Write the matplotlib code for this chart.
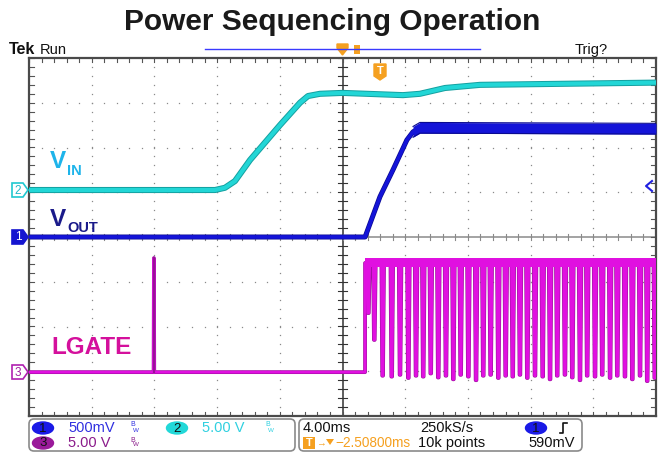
import matplotlib
matplotlib.use("Agg")
import matplotlib.pyplot as plt
from matplotlib.patches import FancyBboxPatch, Polygon, Ellipse
import matplotlib.patheffects as pe
import numpy as np

plt.rcParams['font.family'] = ['Liberation Sans', 'DejaVu Sans']

# ---------------- data (time in ms, amplitude in screen divisions) ----------------
title = "Power Sequencing Operation"
vin_t = [-20, -8.13, -7.5, -6.86, -5.9, -3.99, -2.71, -2.2, -1.44, 0.0, 3.86, 4.94, 6.54, 8.77, 20]
vin_v = [1.05, 1.05, 1.10, 1.25, 1.72, 2.50, 3.00, 3.15, 3.20, 3.22, 3.17, 3.20, 3.33, 3.40, 3.45]

vout_t = [-20, 1.44, 2.39, 3.22, 4.11, 4.50, 4.94, 20]
vout_v = [0.0, 0.0, 0.90, 1.50, 2.17, 2.35, 2.44, 2.42]

lgate_low = -3.02
lgate_high = -0.58
lgate_rise_t = 1.44
spike_t = -12.03
spike_v = -0.47
dip_t = [1.65, 2.03, 2.56, 3.14, 3.67, 4.20, 4.69, 5.15, 5.63, 6.11, 6.60, 7.07, 7.54,
         8.03, 8.52, 8.98, 9.45, 9.94, 10.41, 10.86, 11.32, 11.79, 12.28, 12.77, 13.24,
         13.70, 14.19, 14.66, 15.15, 15.61, 16.11, 16.57, 17.07, 17.53, 18.02, 18.49,
         18.98, 19.44, 19.92]
dip_v = [-1.70, -2.30, -3.10, -3.12, -3.08, -3.15, -3.10, -3.12, -3.05, -3.14, -3.10, -3.18,
         -3.08, -3.12, -3.20, -3.10, -3.08, -3.15, -3.10, -3.12, -3.08, -3.15, -3.10, -3.12,
         -3.18, -3.10, -3.08, -3.14, -3.20, -3.10, -3.12, -3.08, -3.15, -3.10, -3.12, -3.18,
         -3.10, -3.22, -3.15]

ch_labels = ["1", "2", "3"]
ch_scales = ["500mV", "5.00 V", "5.00 V"]
timebase = "4.00ms"
sample_rate = "250kS/s"
trig_delay = "\u22122.50800ms"
record_len = "10k points"
trig_level = "590mV"

# ---------------- figure ----------------
W, H = 660, 454
fig = plt.figure(figsize=(W / 100, H / 100), dpi=100)
fig.patch.set_facecolor("white")

L, R, T, B = 29, 656, 58, 416
ax = fig.add_axes([L / W, 1 - B / H, (R - L) / W, (B - T) / H])
ax.set_xlim(-20, 20)
ax.set_ylim(-4, 4)
ax.set_xticks([]); ax.set_yticks([])
for s in ax.spines.values():
    s.set_color("#4a4a4a"); s.set_linewidth(1.6)

# graticule
gcol = "#8a8a8a"
ydots = np.arange(-4, 4.001, 0.2)
xdots = np.arange(-20, 20.001, 0.8)
for i in range(1, 10):
    if i == 5:
        continue
    xg = -20 + 4 * i
    ax.plot(np.full_like(ydots, xg), ydots, ls="none", marker="s", ms=0.9, mec="none", mfc=gcol, zorder=1)
for j in range(1, 8):
    if j == 4:
        continue
    yg = -4 + j
    ax.plot(xdots, np.full_like(xdots, yg), ls="none", marker="s", ms=0.9, mec="none", mfc=gcol, zorder=1)
ax.axvline(0, color="#333333", lw=1.1, zorder=1)
ax.axhline(0, color="#8a8a8a", lw=1.1, zorder=1)
for yy in ydots:
    ax.plot([-0.3, 0.3], [yy, yy], color="#333333", lw=0.8, zorder=1)
    ax.plot([-20, -19.7], [yy, yy], color="#555555", lw=0.8, zorder=1)
    ax.plot([19.7, 20], [yy, yy], color="#555555", lw=0.8, zorder=1)
for xx in xdots:
    ax.plot([xx, xx], [-0.06, 0.06], color="#8a8a8a", lw=0.8, zorder=1)
    ax.plot([xx, xx], [3.92, 4], color="#555555", lw=0.8, zorder=1)
    ax.plot([xx, xx], [-4, -3.92], color="#555555", lw=0.8, zorder=1)

# VIN (cyan)
ax.plot(vin_t, vin_v, color="#22d6d6", lw=3.0, zorder=3,
        path_effects=[pe.Stroke(linewidth=4.4, foreground="#14a0a0"), pe.Normal()])

# VOUT (blue)
vt = np.array(vout_t, float); vv = np.array(vout_v, float)
ax.plot(vt, vv, color="#1414d8", lw=2.6, zorder=4,
        path_effects=[pe.Stroke(linewidth=3.6, foreground="#0a0a90"), pe.Normal()])
mask = vt >= vout_t[5]
ax.fill_between(vt[mask], vv[mask] - 0.12, vv[mask] + 0.12, color="#1414d8", lw=0, zorder=4)
ax.plot(vt[mask], vv[mask] + 0.12, color="#0a0a90", lw=0.8, zorder=4)
ax.plot(vt[mask], vv[mask] - 0.12, color="#0a0a90", lw=0.8, zorder=4)

# LGATE (magenta)
lx = [-20, spike_t - 0.02, spike_t, spike_t + 0.02, lgate_rise_t, lgate_rise_t]
ly = [lgate_low, lgate_low, spike_v, lgate_low, lgate_low, lgate_high]
for t0, b0 in zip(dip_t, dip_v):
    lx += [t0 - 0.08, t0 - 0.025, t0 + 0.025, t0 + 0.09]
    ly += [lgate_high, b0, b0, lgate_high]
lx += [20]; ly += [lgate_high]
ax.plot(lx, ly, color="#e010e0", lw=1.9, zorder=5,
        path_effects=[pe.Stroke(linewidth=2.7, foreground="#9a109a"), pe.Normal()])
ax.fill_between([lgate_rise_t, 20], lgate_high - 0.1, lgate_high + 0.1, color="#e010e0", lw=0, zorder=5)
ax.plot([spike_t, spike_t], [lgate_low, spike_v], color="#9a109a", lw=1.5, zorder=5)

# ---------------- overlay in pixel coordinates ----------------
ov = fig.add_axes([0, 0, 1, 1], zorder=10)
ov.set_xlim(0, W); ov.set_ylim(H, 0); ov.axis("off")
ov.patch.set_alpha(0)

ov.text(332, 22, title, ha="center", va="center", fontsize=21.5, fontweight="bold", color="#1a1a1a")
ov.text(9, 50, "Tek", ha="left", va="center", fontsize=11.5, fontweight="bold", color="#111")
ov.text(40, 50, "Run", ha="left", va="center", fontsize=10.5, color="#111")
ov.text(575, 50, "Trig?", ha="left", va="center", fontsize=10.5, color="#111")

# record bar and trigger markers at the top
ov.plot([205, 480], [49, 49], color="#3a3aff", lw=1)
ov.add_patch(Polygon([[337, 44], [348, 44], [348, 48], [342.5, 55], [337, 48]], closed=True,
                     fc="#f5a020", ec="#f5a020"))
ov.add_patch(Polygon([[354, 45], [360, 45], [360, 54], [354, 54]], closed=True, fc="#f5a020", ec="none"))
ov.add_patch(Polygon([[374, 64], [386, 64], [386, 76], [380, 80], [374, 76]], closed=True,
                     fc="#f5a020", ec="#f5a020"))
ov.text(380, 70.5, "T", ha="center", va="center", fontsize=8, fontweight="bold", color="white")

# channel reference markers
def marker(y, num, fc, ec, tc):
    ov.add_patch(Polygon([[12, y - 7], [23, y - 7], [28, y], [23, y + 7], [12, y + 7]], closed=True,
                         fc=fc, ec=ec, lw=1.2, zorder=11))
    ov.text(18, y + 0.5, num, ha="center", va="center", fontsize=8.5, color=tc, zorder=12)

marker(190, "2", "white", "#20c8d0", "#20b8c8")
marker(237, "1", "#1515d0", "#1515d0", "white")
marker(372, "3", "white", "#b020b0", "#a020a0")
ov.plot([652, 646, 652], [181, 186, 191], color="#2020e0", lw=1.5)

# trace labels
ov.text(50, 162, "V", ha="left", va="center", fontsize=17.5, fontweight="bold", color="#1eb4ea")
ov.text(67, 171, "IN", ha="left", va="center", fontsize=10.5, fontweight="bold", color="#1eb4ea")
ov.text(50, 219, "V", ha="left", va="center", fontsize=17.5, fontweight="bold", color="#1a1a8a")
ov.text(67, 228, "OUT", ha="left", va="center", fontsize=10.5, fontweight="bold", color="#1a1a8a")
ov.text(51, 348, "LGATE", ha="left", va="center", fontsize=17.5, fontweight="bold", color="#d4109c")

# bottom readout boxes
ov.add_patch(FancyBboxPatch((29, 419), 266, 32, boxstyle="round,pad=0,rounding_size=5",
                            fc="white", ec="#8a8a8a", lw=1.2))
ov.add_patch(FancyBboxPatch((299, 419), 283, 32, boxstyle="round,pad=0,rounding_size=5",
                            fc="white", ec="#8a8a8a", lw=1.2))

def chip(x, y, num, fc):
    ov.add_patch(Ellipse((x, y), 21, 12, fc=fc, ec=fc))
    ov.text(x, y + 0.5, num, ha="center", va="center", fontsize=9.5, color="#111", zorder=12)

def bw(x, y, c):
    ov.text(x, y - 3, "B", ha="left", va="center", fontsize=5, color=c)
    ov.text(x + 3, y + 2, "W", ha="left", va="center", fontsize=4.5, color=c)

chip(43, 428, ch_labels[0], "#1a1ae6")
ov.text(68, 428, ch_scales[0], ha="left", va="center", fontsize=10.5, color="#3030e0")
bw(130, 428, "#3030e0")
chip(177, 428, ch_labels[1], "#22d8d8")
ov.text(202, 428, ch_scales[1], ha="left", va="center", fontsize=10.5, color="#30d0e0")
bw(265, 428, "#30d0e0")
chip(43, 443, ch_labels[2], "#9a1a9a")
ov.text(68, 443, ch_scales[2], ha="left", va="center", fontsize=10.5, color="#8a1a8a")
bw(130, 443, "#8a1a8a")

ov.text(303, 428, timebase, ha="left", va="center", fontsize=10.5, color="#111")
ov.text(420, 428, sample_rate, ha="left", va="center", fontsize=10.5, color="#111")
chip(536, 428, "1", "#1a1ae6")
ov.plot([560, 563, 563, 567], [433, 433, 423, 423], color="#111", lw=1.2)
ov.add_patch(Polygon([[303, 437], [315, 437], [315, 449], [303, 449]], closed=True, fc="#f5a020", ec="none"))
ov.text(309, 443, "T", ha="center", va="center", fontsize=8, fontweight="bold", color="white")
ov.text(316, 443, "\u2192", ha="left", va="center", fontsize=7, color="#f5a020")
ov.add_patch(Polygon([[326, 439], [334, 439], [330, 445]], closed=True, fc="#f5a020", ec="none"))
ov.text(335, 443, trig_delay, ha="left", va="center", fontsize=9.8, color="#f5a020")
ov.text(418, 443, record_len, ha="left", va="center", fontsize=10.5, color="#111")
ov.text(528, 443, trig_level, ha="left", va="center", fontsize=10.5, color="#111")

fig.savefig("out.png", dpi=100, facecolor="white")
